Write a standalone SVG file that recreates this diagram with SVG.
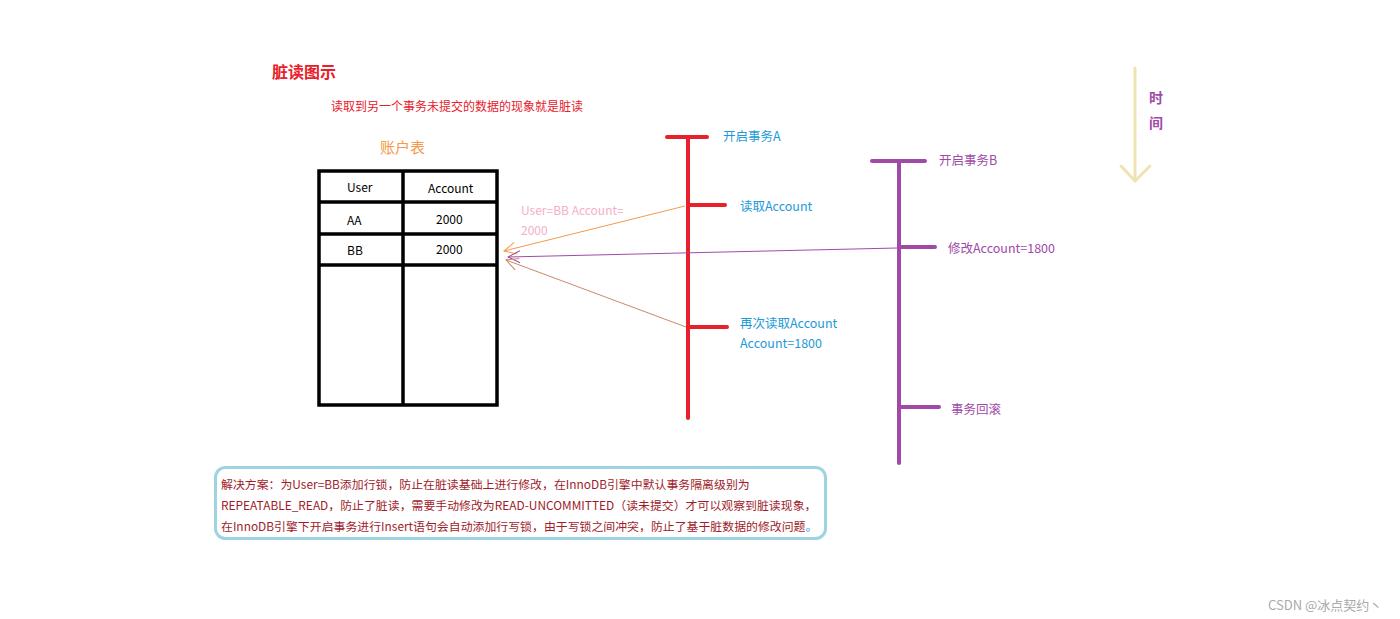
<svg xmlns="http://www.w3.org/2000/svg" width="1400" height="619" viewBox="0 0 1400 619">
<style>
text{font-family:"Noto Sans CJK SC","Microsoft YaHei",sans-serif}
.cell{font-size:12px;fill:#000}
.a{font-size:12.5px;fill:#1e9ad6}
.b{font-size:12.5px;fill:#a04aa8}
.tl{fill:none;stroke-width:4;stroke-linecap:round}
.sol{font-size:11.9px;fill:#a01c2a}
</style>
<defs>
<marker id="mo" markerWidth="14" markerHeight="14" refX="13" refY="7" orient="auto" markerUnits="userSpaceOnUse"><path d="M1,1 L13,7 L1,13" fill="none" stroke="#f39a4a" stroke-width="1"/></marker>
<marker id="mp" markerWidth="14" markerHeight="14" refX="13" refY="7" orient="auto" markerUnits="userSpaceOnUse"><path d="M1,1 L13,7 L1,13" fill="none" stroke="#a04aa8" stroke-width="1"/></marker>
<marker id="mb" markerWidth="14" markerHeight="14" refX="13" refY="7" orient="auto" markerUnits="userSpaceOnUse"><path d="M1,1 L13,7 L1,13" fill="none" stroke="#c88a6a" stroke-width="1"/></marker>
</defs>
<rect width="1400" height="619" fill="#fff"/>
<g id="title">
<text x="272" y="78" font-size="16" font-weight="bold" fill="#e8202a">脏读图示</text>
<text x="331" y="111" font-size="12" fill="#e8202a">读取到另一个事务未提交的数据的现象就是脏读</text>
</g>
<g id="table">
<text x="380" y="153" font-size="15" fill="#f39a4a">账户表</text>
<g fill="none" stroke="#000" stroke-width="3.5">
<rect x="319" y="171" width="178" height="234"/>
<line x1="403" y1="171" x2="403" y2="405"/>
<line x1="319" y1="202" x2="497" y2="202"/>
<line x1="319" y1="234" x2="497" y2="234"/>
<line x1="319" y1="265" x2="497" y2="265"/>
</g>
<text class="cell" x="347" y="192">User</text>
<text class="cell" x="428" y="193">Account</text>
<text class="cell" x="347" y="225">AA</text>
<text class="cell" x="436" y="224">2000</text>
<text class="cell" x="347" y="255">BB</text>
<text class="cell" x="436" y="254">2000</text>
</g>
<g id="txA">
<g class="tl" stroke="#e8202a">
<line x1="688" y1="137" x2="688" y2="418"/>
<line x1="667" y1="137" x2="707" y2="137"/>
<line x1="688" y1="205" x2="725" y2="205"/>
<line x1="688" y1="327" x2="727" y2="327"/>
</g>
<text class="a" x="723" y="141" font-size="12">开启事务A</text>
<text class="a" x="740" y="211">读取Account</text>
<text class="a" x="740" y="328">再次读取Account</text>
<text class="a" x="740" y="348">Account=1800</text>
</g>
<g id="txB">
<g class="tl" stroke="#a04aa8">
<line x1="899" y1="161" x2="899" y2="463"/>
<line x1="872" y1="161" x2="925" y2="161"/>
<line x1="899" y1="247" x2="935" y2="247"/>
<line x1="899" y1="407" x2="939" y2="407"/>
</g>
<text class="b" x="939" y="165" font-size="12">开启事务B</text>
<text class="b" x="948" y="253">修改Account=1800</text>
<text class="b" x="951" y="414">事务回滚</text>
</g>
<g id="time">
<g fill="none" stroke="#efe4b0" stroke-width="3" stroke-linecap="round" stroke-linejoin="round">
<line x1="1135" y1="68" x2="1135" y2="181"/>
<path d="M1121,166 L1135,181 L1150,166"/>
</g>
<text x="1149" y="103" font-size="14" font-weight="bold" fill="#a04aa8">时</text>
<text x="1149" y="128" font-size="14" font-weight="bold" fill="#a04aa8">间</text>
</g>
<g id="connectors" fill="none" stroke-width="1">
<line x1="685" y1="206" x2="504" y2="251" stroke="#f39a4a" marker-end="url(#mo)"/>
<line x1="897" y1="248" x2="508" y2="257" stroke="#a04aa8" marker-end="url(#mp)"/>
<line x1="686" y1="327" x2="506" y2="260" stroke="#c88a6a" marker-end="url(#mb)"/>
</g>
<g id="edge-label">
<text x="521" y="215" font-size="12" fill="#f6aecb">User=BB Account=</text>
<text x="521" y="235" font-size="12" fill="#f6aecb">2000</text>
</g>
<g id="solution">
<rect x="215.5" y="467.5" width="610" height="71" rx="10" fill="none" stroke="#9dd3e3" stroke-width="3"/>
<text class="sol" x="221" y="489">解决方案：为User=BB添加行锁，防止在脏读基础上进行修改，在InnoDB引擎中默认事务隔离级别为</text>
<text class="sol" x="221" y="510">REPEATABLE_READ，防止了脏读，需要手动修改为READ-UNCOMMITTED（读未提交）才可以观察到脏读现象，</text>
<text class="sol" x="221" y="531">在InnoDB引擎下开启事务进行Insert语句会自动添加行写锁，由于写锁之间冲突，防止了基于脏数据的修改问题<tspan fill="#1e9ad6">。</tspan></text>
</g>
<text x="1268" y="610" font-size="13" fill="#aaa">CSDN @冰点契约丶</text>
</svg>
